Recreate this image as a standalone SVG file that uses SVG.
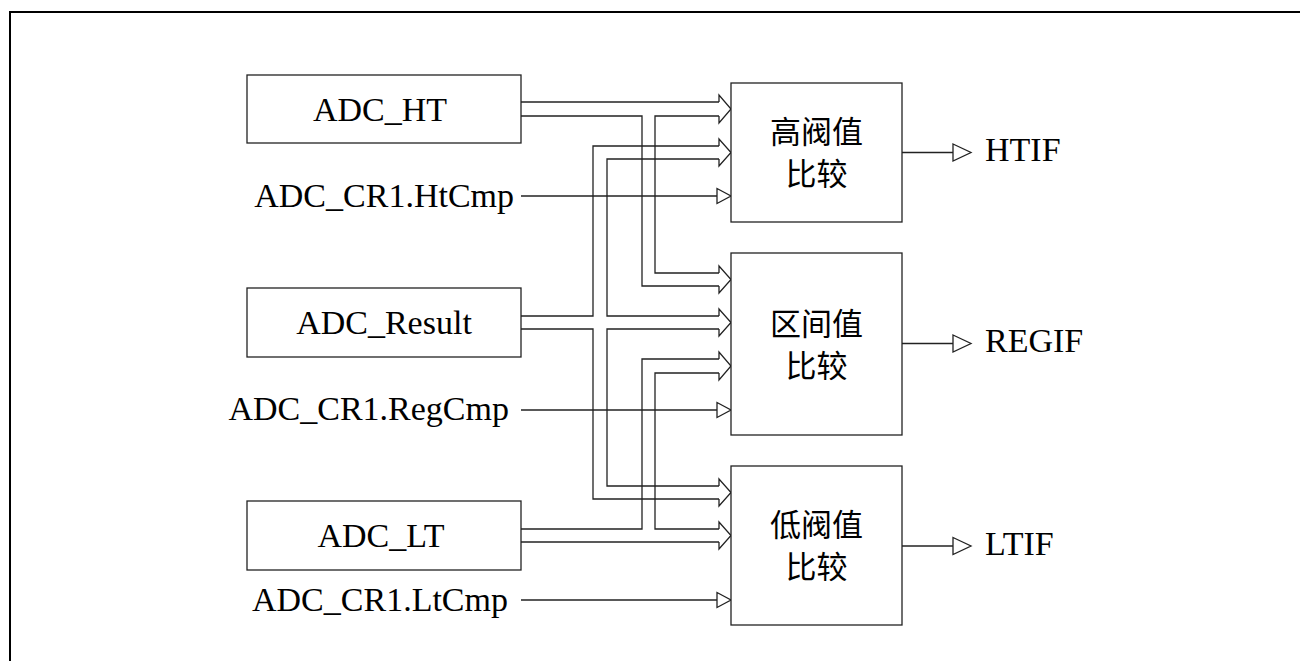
<svg xmlns="http://www.w3.org/2000/svg" width="1300" height="661" viewBox="0 0 1300 661">
<style>
.frame{fill:none;stroke:#000;stroke-width:2}
.box{fill:#fff;stroke:#222;stroke-width:1.3}
.ln{fill:none;stroke:#222;stroke-width:1.3}
.ah{fill:#fff;stroke:#222;stroke-width:1.3;stroke-linejoin:miter}
.t{font-family:"Liberation Serif","Times New Roman",serif;font-size:34px;fill:#000}
.c{font-family:"Noto Sans CJK SC","Noto Sans CJK JP",sans-serif;font-size:31px;fill:#000;text-anchor:middle}
</style>
<rect width="1300" height="661" fill="#fff"/>
<path class="frame" d="M10,661 V12 H1300"/>

<g id="connectors">
  <!-- ADC_HT bus -->
  <path class="ln" d="M521,102 H719"/>
  <path class="ln" d="M521,116 H642 V286 H719"/>
  <path class="ln" d="M719,116 H655 V273 H719"/>
  <!-- ADC_Result bus -->
  <path class="ln" d="M521,316 H593 V146 H719"/>
  <path class="ln" d="M521,329 H593 V499 H719"/>
  <path class="ln" d="M719,159 H607 V316 H719"/>
  <path class="ln" d="M719,486 H607 V329 H719"/>
  <!-- ADC_LT bus -->
  <path class="ln" d="M521,529 H642 V359 H719"/>
  <path class="ln" d="M719,373 H655 V529 H719"/>
  <path class="ln" d="M521,542 H719"/>
  <!-- big arrowheads -->
  <path class="ln" d="M719,102 V95 L731,109 L719,123 V116"/>
  <path class="ln" d="M719,146 V139 L731,152.5 L719,166 V159"/>
  <path class="ln" d="M719,273 V266 L731,279.5 L719,293 V286"/>
  <path class="ln" d="M719,316 V309 L731,322.5 L719,336 V329"/>
  <path class="ln" d="M719,359 V352 L731,366 L719,380 V373"/>
  <path class="ln" d="M719,486 V479 L731,492.5 L719,506 V499"/>
  <path class="ln" d="M719,529 V522 L731,535.5 L719,549 V542"/>
  <!-- control inputs -->
  <path class="ln" d="M521,196 H717"/>
  <polygon class="ah" points="717,188.5 731,196 717,203.5"/>
  <path class="ln" d="M521,410 H717"/>
  <polygon class="ah" points="717,402.5 731,410 717,417.5"/>
  <path class="ln" d="M521,600 H717"/>
  <polygon class="ah" points="717,592.5 731,600 717,607.5"/>
  <!-- outputs -->
  <path class="ln" d="M902,152.5 H953"/>
  <polygon class="ah" points="953,144 971,152.5 953,161"/>
  <path class="ln" d="M902,343.5 H953"/>
  <polygon class="ah" points="953,335 971,343.5 953,352"/>
  <path class="ln" d="M902,546 H953"/>
  <polygon class="ah" points="953,537.5 971,546 953,554.5"/>
</g>

<g id="adc_ht">
  <rect class="box" x="247" y="75" width="274" height="68"/>
  <text class="t" x="380" y="121" text-anchor="middle">ADC_HT</text>
</g>
<g id="adc_result">
  <rect class="box" x="247" y="288" width="274" height="69"/>
  <text class="t" x="384" y="334" text-anchor="middle">ADC_Result</text>
</g>
<g id="adc_lt">
  <rect class="box" x="247" y="501" width="274" height="69"/>
  <text class="t" x="381" y="547" text-anchor="middle">ADC_LT</text>
</g>
<g id="htcmp"><text class="t" x="514" y="207" text-anchor="end">ADC_CR1.HtCmp</text></g>
<g id="regcmp"><text class="t" x="509" y="420" text-anchor="end">ADC_CR1.RegCmp</text></g>
<g id="ltcmp"><text class="t" x="508" y="611" text-anchor="end">ADC_CR1.LtCmp</text></g>

<g id="high_cmp">
  <rect class="box" x="731" y="83" width="171" height="139"/>
  <text class="c" x="816.5" y="143">高阀值</text>
  <text class="c" x="816.5" y="185">比较</text>
</g>
<g id="reg_cmp">
  <rect class="box" x="731" y="253" width="171" height="182"/>
  <text class="c" x="816.5" y="335">区间值</text>
  <text class="c" x="816.5" y="377">比较</text>
</g>
<g id="low_cmp">
  <rect class="box" x="731" y="466" width="171" height="159"/>
  <text class="c" x="816.5" y="536">低阀值</text>
  <text class="c" x="816.5" y="578">比较</text>
</g>

<g id="htif"><text class="t" x="985" y="161">HTIF</text></g>
<g id="regif"><text class="t" x="985" y="352">REGIF</text></g>
<g id="ltif"><text class="t" x="985" y="555">LTIF</text></g>
</svg>
